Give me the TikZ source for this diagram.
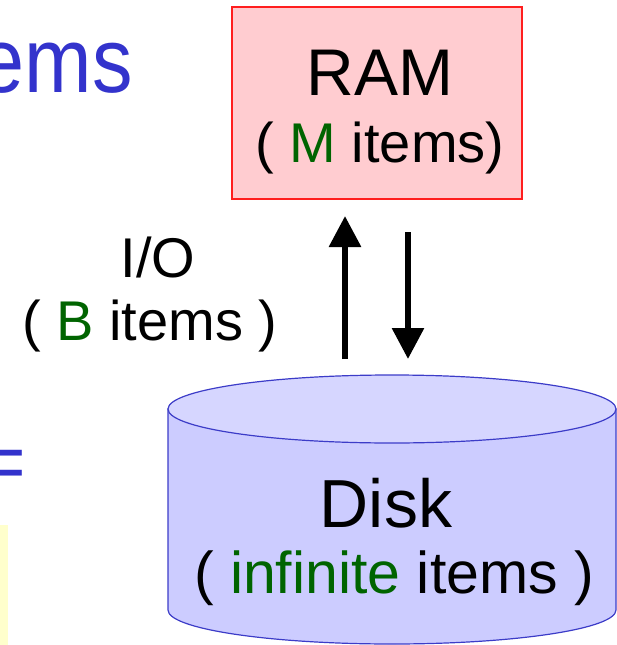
\documentclass[tikz,border=0pt]{standalone}
\usepackage{fontspec}
\setmainfont{Liberation Sans}
\usetikzlibrary{arrows.meta}
\definecolor{slideblue}{RGB}{51,51,204}
\definecolor{itemgreen}{RGB}{0,100,0}
\definecolor{rampink}{RGB}{255,204,208}
\definecolor{ramred}{RGB}{255,30,30}
\definecolor{diskfill}{RGB}{204,204,255}
\definecolor{disktop}{RGB}{214,214,255}
\definecolor{diskline}{RGB}{60,60,200}
\definecolor{notefill}{RGB}{255,255,204}
\tikzset{
  label56/.style={inner sep=0pt, anchor=base, font=\fontsize{56}{60}\selectfont},
  labelbig/.style={inner sep=0pt, anchor=base, font=\fontsize{66}{70}\selectfont},
  iolink/.style={line width=6pt, -{Triangle[length=31pt,width=31pt]}},
}
\begin{document}
\begin{tikzpicture}[x=1pt,y=-1pt]
\useasboundingbox (0,0) rectangle (617,645);

% pieces of the neighbouring slide content at the left edge
\node[inner sep=0pt, anchor=base east, text=slideblue,
      font=\fontsize{92}{96}\selectfont] (title) at (133,92) {\scalebox{0.88}[1]{ems}};
\node[inner sep=0pt, anchor=base east, text=slideblue,
      font=\fontsize{80}{84}\selectfont] (eqsign) at (26,489) {=};
\fill[notefill] (-5,525) rectangle (8,650);

% main memory
\node[draw=ramred, line width=1.5pt, fill=rampink, minimum width=290pt,
      minimum height=192pt, inner sep=0pt] (ram) at (377,103) {};
\node[labelbig] (ramtitle) at (380,95) {RAM};
\node[label56] (ramsize) at (380,162) {( \textcolor{itemgreen}{M} items)};

% disk drawn as a cylinder
\filldraw[fill=diskfill, draw=diskline, line width=1.2pt]
  (168,409) -- (168,610)
  arc[start angle=180, end angle=0, x radius=224, y radius=34]
  -- (616,409) -- cycle;
\filldraw[fill=disktop, draw=diskline, line width=1.2pt]
  (392,409) ellipse[x radius=224, y radius=34];
\coordinate (disk) at (392,520);
\node[inner sep=0pt, anchor=base, font=\fontsize{68}{72}\selectfont] (disktitle) at (386,527) {Disk};
\node[inner sep=0pt, anchor=base, font=\fontsize{59}{63}\selectfont] (disksize) at (394,593)
  {( \textcolor{itemgreen}{infinite} items )};

% transfers between disk and memory
\coordinate (upfrom) at (345,359);
\coordinate (upto) at (345,216);
\coordinate (downfrom) at (408,232);
\coordinate (downto) at (408,359);
\draw[iolink] (upfrom) -- (upto);
\draw[iolink] (downfrom) -- (downto);
\node[label56] (io) at (158,277) {I/O};
\node[label56] (blocksize) at (150,340) {( \textcolor{itemgreen}{B} items )};
\end{tikzpicture}
\end{document}
